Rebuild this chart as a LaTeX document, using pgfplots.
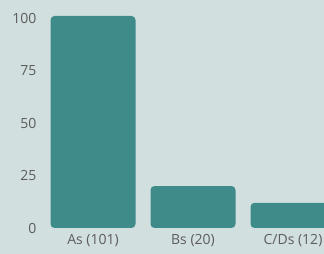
\documentclass[border=0pt]{standalone}
\usepackage{pgfplots}
\pgfplotsset{compat=1.18}
\usepackage{fontspec}
\setmainfont{Open Sans}
\definecolor{bg}{HTML}{D2DFDF}
\definecolor{bar}{HTML}{3F8B89}
\definecolor{txt}{HTML}{5C5C5C}
\begin{document}
\begin{tikzpicture}
\fill[bg] (0pt,-26pt) rectangle (324pt,228pt);
\begin{axis}[
  at={(0pt,0pt)}, anchor=south west,
  scale only axis, width=324pt, height=228pt,
  xmin=-0.93, xmax=2.31, ymin=0, ymax=108.6,
  axis line style={draw=none},
  major tick length=0pt,
  xtick={0,1,2}, xticklabels={As (101), Bs (20), C/Ds (12)},
  ytick={0,25,50,75,100},
  tick label style={font=\fontsize{14}{16}\selectfont, text=txt},
  /pgf/number format/assume math mode=true,
  yticklabel style={anchor=east, xshift=40pt},
  xticklabel style={yshift=-3pt},
  clip=true,
]
\addplot[ybar, bar width=85pt, fill=bar, draw=none, rounded corners=4pt] coordinates {(0,101) (1,20) (2,12)};
\end{axis}
\pgfresetboundingbox
\useasboundingbox (0pt,-26pt) rectangle (324pt,228pt);
\end{tikzpicture}
\end{document}
